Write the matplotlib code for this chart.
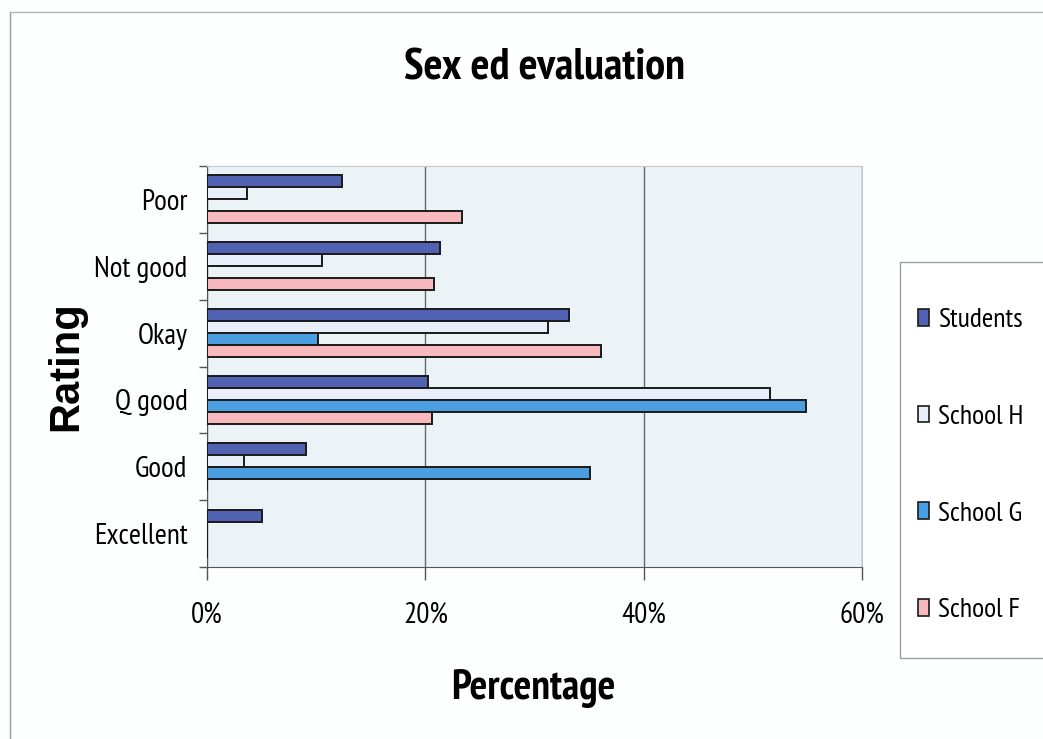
import numpy as np
import matplotlib.pyplot as plt
from matplotlib.lines import Line2D
from matplotlib.patches import Rectangle

# ratings, top to bottom as shown
ratings = ['Poor', 'Not good', 'Okay', 'Q good', 'Good', 'Excellent']
series = ['Students', 'School H', 'School G', 'School F']

# percentages
students = [12.4, 21.3, 33.2, 20.2, 9.1, 5.0]
school_h = [3.7, 10.5, 31.2, 51.6, 3.4, 0.0]
school_g = [0.0, 0.0, 10.2, 54.9, 35.1, 0.0]
school_f = [23.4, 20.8, 36.1, 20.6, 0.0, 0.0]

colors = ['#5262b2', '#e9effa', '#4b9fe0', '#f7b9bd']
narrow = ['PT Sans Narrow', 'Archivo Narrow', 'Asap Condensed', 'DejaVu Sans']

W, H = 1043, 739
fig = plt.figure(figsize=(W / 100, H / 100), dpi=100)
fig.patch.set_facecolor('#fdfefe')

# outer chart frame (top + left visible)
fig.add_artist(Line2D([10 / W, 10 / W], [0, 1 - 12 / H], color='#9a9a9a', lw=1.0))
fig.add_artist(Line2D([10 / W, 1], [1 - 12 / H, 1 - 12 / H], color='#b5b5b5', lw=1.0))

ax = fig.add_axes([207 / W, 1 - 567 / H, (862 - 207) / W, (567 - 166) / H])
ax.set_facecolor('#ecf3f7')

y = np.arange(len(ratings))
bh = 0.18
for j, (vals, lab) in enumerate(zip([students, school_h, school_g, school_f], series)):
    ax.barh(y + (j - 1.5) * bh, vals, height=bh, color=colors[j],
            edgecolor='#1a1a1a', linewidth=1.4, label=lab, zorder=3)

ax.set_xlim(0, 60)
ax.set_ylim(len(ratings) - 0.5, -0.5)

ax.set_xticks([0, 20, 40, 60])
ax.set_xticklabels(['0%', '20%', '40%', '60%'], family=narrow, fontsize=21)
ax.tick_params(axis='x', length=9, width=1, color='#555555', pad=16)
ax.xaxis.grid(True, color='#666666', lw=1.0, zorder=1)

# tick marks between categories, labels centred
ax.set_yticks(np.arange(len(ratings) + 1) - 0.5)
ax.set_yticklabels([])
ax.set_yticks(y, minor=True)
ax.set_yticklabels(ratings, minor=True, family=narrow, fontsize=21)
ax.tick_params(axis='y', which='major', length=6, width=1, color='#555555')
ax.tick_params(axis='y', which='minor', length=0, pad=14)

for s in ['left', 'bottom']:
    ax.spines[s].set_color('#555555')
for s in ['top', 'right']:
    ax.spines[s].set_color('#c8c8c8')

fig.text(545 / W, 1 - 68 / H, 'Sex ed evaluation', ha='center', va='center',
         family=narrow, fontweight='bold', fontsize=32)
fig.text(533 / W, 1 - 688 / H, 'Percentage', ha='center', va='center',
         family=narrow, fontweight='bold', fontsize=30)
fig.text(66 / W, 1 - 366 / H, 'Rating', ha='center', va='center', rotation=90,
         family=['Liberation Sans', 'DejaVu Sans'], fontweight='bold', fontsize=30)

# legend box runs off the right edge, as in the scan
fig.add_artist(Rectangle((900 / W, 1 - 658 / H), 200 / W, (658 - 262) / H,
                         transform=fig.transFigure, facecolor='white',
                         edgecolor='#a0a0a0', lw=1.0, zorder=1))
leg = fig.legend(loc='upper left', bbox_to_anchor=(918 / W, 1 - 308 / H),
                 prop={'family': narrow, 'size': 20}, frameon=False,
                 handlelength=0.38, handleheight=0.55,
                 handletextpad=0.35, labelspacing=2.62, borderpad=0,
                 borderaxespad=0)
leg.set_zorder(2)
for h in leg.legend_handles:
    h.set_linewidth(1.2)

fig.savefig('out.png', dpi=100)
